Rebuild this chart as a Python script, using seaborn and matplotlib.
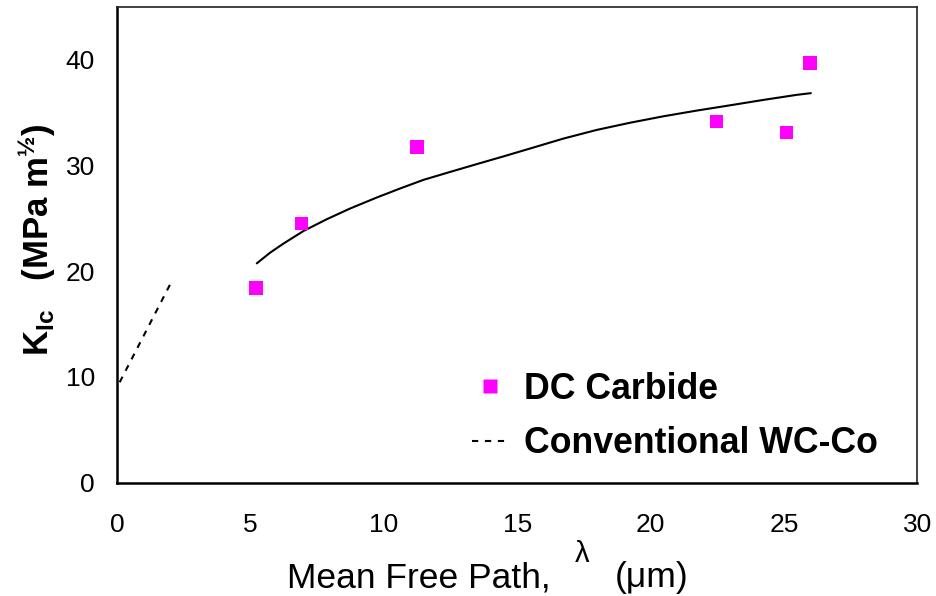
import matplotlib
matplotlib.use('Agg')
import matplotlib.pyplot as plt
import seaborn as sns
import pandas as pd
from matplotlib.lines import Line2D

# ---- data ----
dc_x = [5.22, 6.91, 11.24, 22.47, 25.10, 25.98]
dc_y = [18.44, 24.54, 31.78, 34.16, 33.11, 39.70]

fit_x = [5.24, 5.74, 6.24, 6.99, 7.86, 8.74, 9.74, 10.61, 11.49, 12.49, 13.49, 14.49,
         15.40, 16.73, 17.98, 19.23, 20.48, 21.73, 22.98, 24.23, 25.48, 26.01]
fit_y = [20.75, 21.76, 22.62, 23.81, 24.92, 25.94, 26.98, 27.83, 28.65, 29.40, 30.14, 30.87,
         31.55, 32.55, 33.37, 34.05, 34.66, 35.20, 35.70, 36.21, 36.69, 36.85]

conv_x = [0.10, 2.00]
conv_y = [9.50, 18.80]

x_ticks = [0, 5, 10, 15, 20, 25, 30]
y_ticks = [0, 10, 20, 30, 40]

sns.set_style('white')
plt.rcParams['font.family'] = ['Liberation Sans', 'DejaVu Sans']
plt.rcParams['mathtext.fontset'] = 'custom'
plt.rcParams['mathtext.rm'] = 'Liberation Sans'
plt.rcParams['mathtext.bf'] = 'Liberation Sans:bold'
plt.rcParams['mathtext.it'] = 'Liberation Sans:italic'
for k in ['text.color', 'axes.labelcolor', 'xtick.color', 'ytick.color', 'axes.edgecolor']:
    plt.rcParams[k] = 'black'

W, H = 936, 596
fig = plt.figure(figsize=(W / 100, H / 100), dpi=100)
ax = fig.add_axes([117 / W, (H - 482.7) / H, 800.3 / W, (482.7 - 7) / H])

dash = (0, (3, 3.2))
sns.lineplot(x=fit_x, y=fit_y, color='black', lw=1.5, ax=ax, estimator=None, sort=False)
sns.lineplot(x=conv_x, y=conv_y, color='black', lw=1.5, linestyle=dash, ax=ax,
             estimator=None, sort=False)
sns.scatterplot(x=dc_x, y=dc_y, marker='s', s=95, color='#FF00FF', edgecolor='none',
                linewidth=0, ax=ax, zorder=3)

ax.set_xlim(0, 30)
ax.set_ylim(0, 45)
ax.set_xticks(x_ticks)
ax.set_yticks(y_ticks)
ax.tick_params(axis='both', direction='in', length=7.5, width=1.2, colors='black',
               labelsize=19)
ax.tick_params(axis='y', pad=16)
ax.tick_params(axis='x', pad=22)
for s in ['left', 'bottom']:
    ax.spines[s].set_linewidth(1.8)
    ax.spines[s].set_color('black')
for s in ['top', 'right']:
    ax.spines[s].set_linewidth(1.2)
    ax.spines[s].set_color('#222222')
ax.set_xlabel('')
ax.set_ylabel('')

# legend
handles = [
    Line2D([], [], marker='s', color='none', markerfacecolor='#FF00FF',
           markeredgecolor='none', markersize=9.5),
    Line2D([], [], color='black', lw=1.5, linestyle=dash),
]
labels = ['DC Carbide', 'Conventional WC-Co']
leg = ax.legend(handles, labels, loc='upper left', bbox_to_anchor=(0.444, 0.2335),
                frameon=False, prop={'weight': 'bold', 'size': 25.7},
                handlelength=1.0, handletextpad=0.45, labelspacing=0.55,
                borderpad=0, borderaxespad=0)

# y label
fig.text(37 / W, 1 - 240 / H,
         r'$\mathbf{K_{Ic}}$' + '   ' + r'$\mathbf{(MPa\ m^{½})}$',
         rotation=90, ha='center', va='center', fontsize=25, fontweight='bold')

# x label pieces
fig.text(287 / W, 1 - 587 / H, 'Mean Free Path,', ha='left', va='baseline', fontsize=25.5)
fig.text(575 / W, 1 - 562 / H, 'λ', ha='left', va='baseline', fontsize=21)
fig.text(615 / W, 1 - 587 / H, '(μm)', ha='left', va='baseline', fontsize=25.5)

fig.savefig('out.png', dpi=100)
